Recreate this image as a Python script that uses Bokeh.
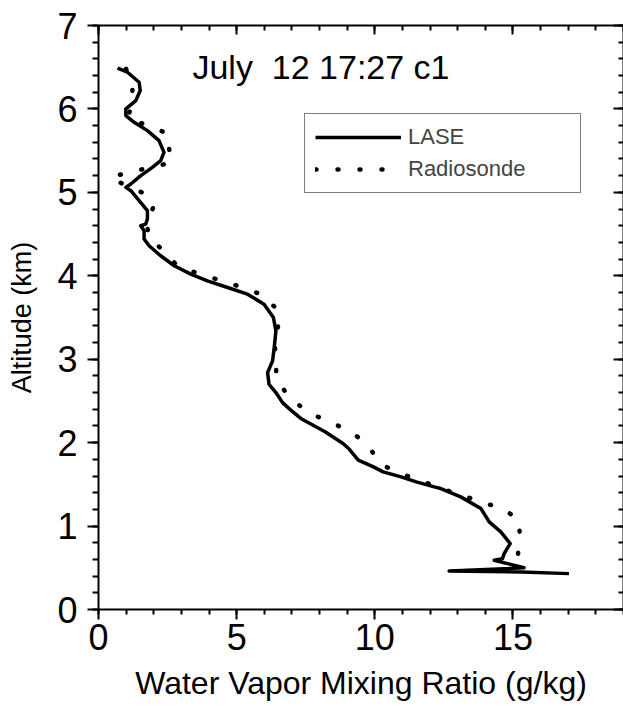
from bokeh.plotting import figure
from bokeh.models import (Range1d, LinearAxis, Label, Legend, LegendItem,
                          SingleIntervalTicker, CustomJSTickFormatter)
from bokeh.embed import file_html
from bokeh.resources import INLINE

# LASE water vapor profile (g/kg) vs altitude (km)
lase_wv = [0.69, 1.05, 1.47, 1.51, 1.35, 0.99, 0.99, 1.29, 1.77, 2.19,
           2.37, 2.25, 1.95, 1.53, 1.17, 0.99, 1.17, 1.47, 1.77, 1.77,
           1.71, 1.53, 1.65, 1.65, 1.83, 2.25, 2.74, 3.34, 3.94, 4.67,
           5.39, 5.99, 6.33, 6.42, 6.36, 6.30, 6.12, 6.17, 6.42, 6.66,
           6.96, 7.32, 8.20, 8.85, 9.05, 9.40, 9.95, 10.30, 10.95, 11.50,
           12.15, 12.39, 13.11, 13.84, 14.14, 14.56, 14.90, 14.68, 14.62, 14.32,
           14.80, 15.40, 12.69, 15.30, 17.03]
lase_alt = [6.49, 6.44, 6.32, 6.22, 6.10, 6.00, 5.92, 5.84, 5.74, 5.62,
            5.48, 5.38, 5.30, 5.20, 5.10, 5.06, 5.02, 4.90, 4.78, 4.68,
            4.62, 4.60, 4.54, 4.44, 4.36, 4.24, 4.12, 4.02, 3.94, 3.86,
            3.78, 3.66, 3.50, 3.34, 3.14, 2.98, 2.84, 2.70, 2.60, 2.48,
            2.39, 2.29, 2.13, 1.99, 1.93, 1.79, 1.71, 1.65, 1.59, 1.53,
            1.47, 1.45, 1.35, 1.21, 1.05, 0.93, 0.79, 0.67, 0.61, 0.59,
            0.55, 0.50, 0.46, 0.45, 0.43]

# Radiosonde profile
sonde_wv = [1.00, 1.23, 1.20, 1.05, 1.83, 2.52, 2.56, 2.65, 1.95, 1.20,
            0.44, 0.99, 1.71, 1.99, 1.75, 1.83, 2.35, 2.88, 3.60, 4.36,
            5.12, 5.87, 6.43, 6.50, 6.38, 6.42, 6.44, 6.88, 7.60, 8.35,
            9.10, 9.76, 10.17, 10.90, 11.64, 12.38, 13.10, 13.86, 14.60, 15.22,
            15.25, 15.18, 15.24]
sonde_alt = [6.48, 6.24, 6.05, 5.88, 5.80, 5.70, 5.51, 5.36, 5.30, 5.25,
             5.18, 5.08, 4.98, 4.83, 4.62, 4.46, 4.30, 4.11, 4.03, 3.95,
             3.87, 3.78, 3.61, 3.40, 3.18, 2.98, 2.77, 2.55, 2.36, 2.25,
             2.14, 1.97, 1.75, 1.63, 1.55, 1.45, 1.38, 1.28, 1.22, 1.07,
             0.86, 0.66, 0.42]

title_text = "July\u00a0 12 17:27 c1"
x_label = "Water Vapor Mixing Ratio (g/kg)"
y_label = "Altitude (km)"
series_names = ["LASE", "Radiosonde"]

FONT = "Liberation Sans"

p = figure(width=623, height=713, output_backend="svg", toolbar_location=None,
           x_range=Range1d(0, 19), y_range=Range1d(0, 7),
           min_border_left=98, min_border_right=0, min_border_top=25,
           min_border_bottom=104, x_axis_label=x_label, y_axis_label=y_label)
p.grid.visible = False
p.outline_line_color = None
p.background_fill_color = "white"
p.border_fill_color = "white"

p.xaxis.ticker = SingleIntervalTicker(interval=5, num_minor_ticks=5)
p.yaxis.ticker = SingleIntervalTicker(interval=1, num_minor_ticks=5)

for ax in (p.xaxis[0], p.yaxis[0]):
    ax.axis_line_width = 2
    ax.major_tick_line_width = 2
    ax.minor_tick_line_width = 2
    ax.axis_line_color = "black"
    ax.major_tick_line_color = "black"
    ax.minor_tick_line_color = "black"
    ax.major_label_text_font = FONT
    ax.major_label_text_font_size = "36px"
    ax.major_label_text_color = "black"
    ax.axis_label_text_font = FONT
    ax.axis_label_text_font_style = "normal"
    ax.axis_label_text_color = "black"
    ax.major_tick_in = 0
    ax.minor_tick_in = 0

p.xaxis.major_tick_out = 10
p.xaxis.minor_tick_out = 5
p.xaxis.major_label_standoff = 4
p.xaxis.axis_label_text_font_size = "32px"
p.xaxis.axis_label_standoff = 12

p.yaxis.major_tick_out = 11
p.yaxis.minor_tick_out = 6
p.yaxis.major_label_standoff = 10
p.yaxis.axis_label_text_font_size = "27px"
p.yaxis.axis_label_standoff = 17

blank = CustomJSTickFormatter(code="return ''")
top = LinearAxis(ticker=SingleIntervalTicker(interval=5, num_minor_ticks=5),
                 formatter=blank, major_label_text_font_size="10px",
                 major_label_standoff=0,
                 major_tick_in=9, major_tick_out=0, minor_tick_in=5, minor_tick_out=0,
                 axis_line_width=2, major_tick_line_width=2, minor_tick_line_width=2)
right = LinearAxis(ticker=SingleIntervalTicker(interval=1, num_minor_ticks=5),
                   formatter=blank, major_label_text_font_size="10px",
                   major_label_standoff=0,
                   major_tick_in=10, major_tick_out=0, minor_tick_in=5, minor_tick_out=0,
                   axis_line_width=2, major_tick_line_width=2, minor_tick_line_width=2)
p.add_layout(top, "above")
p.add_layout(right, "right")

r1 = p.line(lase_wv, lase_alt, line_color="black", line_width=3.5, line_join="round")
r2 = p.line(sonde_wv, sonde_alt, line_color="black", line_width=4.5,
            line_dash="1 21", line_cap="round")

p.add_layout(Label(x=3.40, y=6.50, text=title_text, text_font=FONT,
                   text_font_size="34px", text_color="black",
                   text_baseline="alphabetic"))

legend = Legend(items=[LegendItem(label=series_names[0], renderers=[r1]),
                       LegendItem(label=series_names[1], renderers=[r2])],
                location=(206, 416), padding=10, spacing=6, margin=0,
                label_height=24, glyph_height=24, glyph_width=86,
                label_standoff=7, label_width=162,
                label_text_font=FONT, label_text_font_size="22px",
                border_line_color="black", border_line_width=1.5,
                background_fill_alpha=1)
p.add_layout(legend, "center")

open("out.html", "w").write(file_html(p, INLINE))
